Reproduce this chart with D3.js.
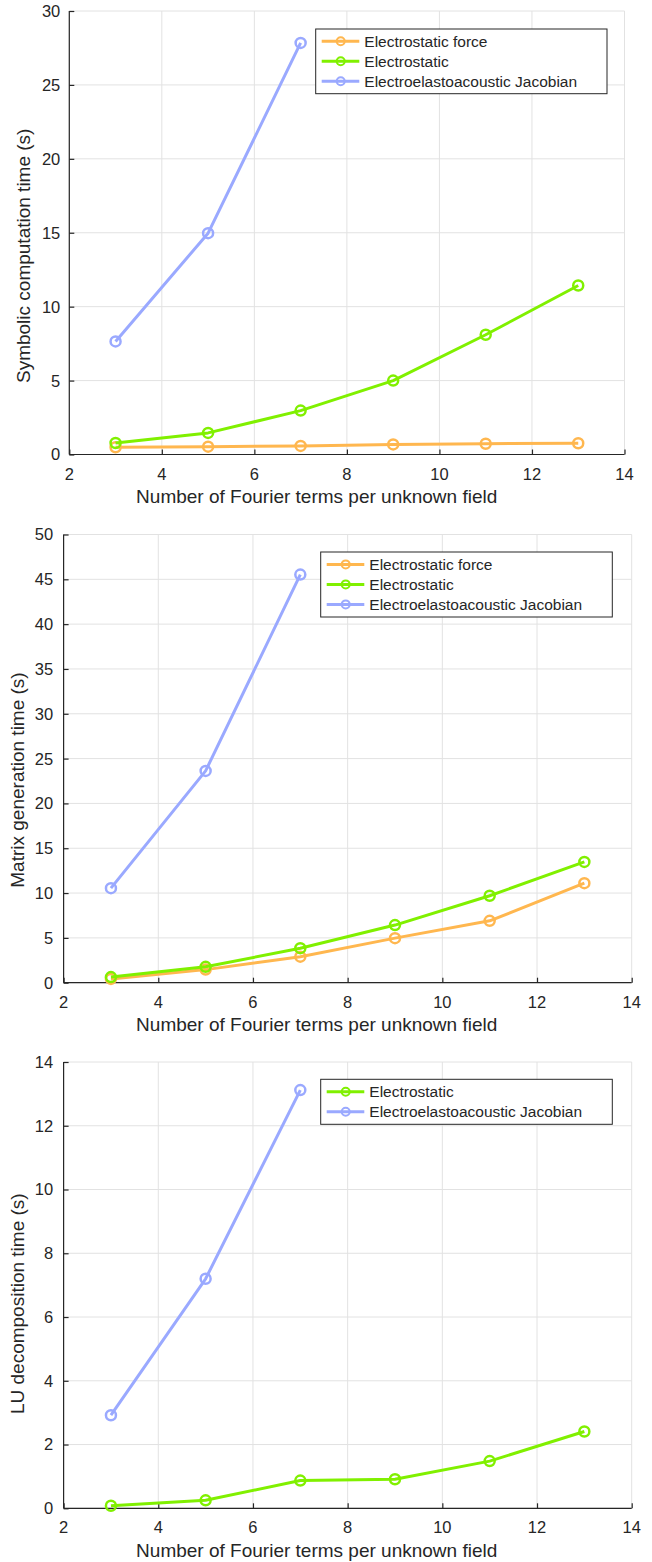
<!DOCTYPE html>
<html>
<head>
<meta charset="utf-8">
<script src="https://cdn.jsdelivr.net/npm/d3@7"></script>
<style>
  html, body { margin: 0; padding: 0; background: #fff; }
  svg { display: block; }
  text { font-family: "Liberation Sans", Arial, Helvetica, sans-serif; fill: #262626; }
</style>
</head>
<body>
<svg id="fig" width="652" height="1562"></svg>
<script>
// ---------------- data ----------------
const xTerms = [3, 5, 7, 9, 11, 13];
const xTermsJac = [3, 5, 7];
const xTicks = [2, 4, 6, 8, 10, 12, 14];

const seriesNames = ["Electrostatic force", "Electrostatic", "Electroelastoacoustic Jacobian"];

// Symbolic computation time (s)
const symForce = [0.49, 0.53, 0.58, 0.68, 0.73, 0.76];
const symElec  = [0.78, 1.46, 2.97, 5.0, 8.1, 11.43];
const symJac   = [7.65, 14.97, 27.84];
const symYTicks = [0, 5, 10, 15, 20, 25, 30];

// Matrix generation time (s)
const genForce = [0.42, 1.46, 2.9, 4.97, 6.9, 11.1];
const genElec  = [0.63, 1.77, 3.85, 6.43, 9.7, 13.47];
const genJac   = [10.55, 23.63, 45.53];
const genYTicks = [0, 5, 10, 15, 20, 25, 30, 35, 40, 45, 50];

// LU decomposition time (s)
const luElec = [0.08, 0.25, 0.87, 0.91, 1.48, 2.41];
const luJac  = [2.92, 7.2, 13.12];
const luYTicks = [0, 2, 4, 6, 8, 10, 12, 14];

// ---------------- style ----------------
const colors = { force: "#ffb74f", elec: "#80f000", jac: "#9aa9ff" };
const axisColor = "#262626";
const gridColor = "#e2e2e2";

const svg = d3.select("#fig");

function drawChart(cfg) {
  const x = d3.scaleLinear().domain([2, 14]).range([cfg.left, cfg.right]);
  const y = d3.scaleLinear().domain([0, cfg.yMax]).range([cfg.bottom, cfg.top]);
  const g = svg.append("g");

  // grid
  g.append("g").selectAll("line").data(xTicks).join("line")
    .attr("x1", d => x(d)).attr("x2", d => x(d))
    .attr("y1", cfg.bottom).attr("y2", cfg.top)
    .attr("stroke", gridColor).attr("stroke-width", 1);
  g.append("g").selectAll("line").data(cfg.yTicks).join("line")
    .attr("y1", d => y(d)).attr("y2", d => y(d))
    .attr("x1", cfg.left).attr("x2", cfg.right)
    .attr("stroke", gridColor).attr("stroke-width", 1);

  // axes (inward ticks)
  const xAxis = d3.axisTop(x).tickValues(xTicks).tickSize(5).tickFormat("");
  g.append("g").attr("transform", `translate(0,${cfg.bottom})`).call(xAxis)
    .call(s => s.selectAll("path,line").attr("stroke", axisColor).attr("stroke-width", 1.2))
    .call(s => s.select(".domain").attr("d", `M${cfg.left},0H${cfg.right}`));
  const yAxis = d3.axisRight(y).tickValues(cfg.yTicks).tickSize(5).tickFormat("");
  g.append("g").attr("transform", `translate(${cfg.left},0)`).call(yAxis)
    .call(s => s.selectAll("path,line").attr("stroke", axisColor).attr("stroke-width", 1.2))
    .call(s => s.select(".domain").attr("d", `M0,${cfg.top}V${cfg.bottom}`));

  // tick labels
  g.append("g").selectAll("text").data(xTicks).join("text")
    .attr("x", d => x(d)).attr("y", cfg.bottom + 25)
    .attr("text-anchor", "middle").attr("font-size", 16.5).text(d => d);
  g.append("g").selectAll("text").data(cfg.yTicks).join("text")
    .attr("x", cfg.left - cfg.yLabGap).attr("y", d => y(d)).attr("dy", "0.36em")
    .attr("text-anchor", "end").attr("font-size", 16.5).text(d => d);

  // axis titles
  g.append("text").attr("x", 316.7).attr("y", cfg.bottom + 48.5)
    .attr("text-anchor", "middle").attr("font-size", 19).text("Number of Fourier terms per unknown field");
  g.append("text")
    .attr("transform", `translate(${cfg.yTitleX},${cfg.yTitleY}) rotate(-90)`)
    .attr("text-anchor", "middle").attr("font-size", 19).text(cfg.yTitle);

  // series
  const line = d3.line().x(d => x(d[0])).y(d => y(d[1]));
  cfg.series.forEach(s => {
    const pts = s.xs.map((v, i) => [v, s.ys[i]]);
    g.append("path").datum(pts).attr("d", line)
      .attr("fill", "none").attr("stroke", s.color).attr("stroke-width", 3)
      .attr("stroke-linejoin", "round");
    g.append("g").selectAll("circle").data(pts).join("circle")
      .attr("cx", d => x(d[0])).attr("cy", d => y(d[1])).attr("r", 5)
      .attr("fill", "none").attr("stroke", s.color).attr("stroke-width", 2.5);
  });

  // legend
  const L = cfg.legend;
  const lg = g.append("g");
  lg.append("rect").attr("x", L.x0).attr("y", L.y0)
    .attr("width", L.x1 - L.x0).attr("height", L.y1 - L.y0)
    .attr("fill", "#fff").attr("stroke", axisColor).attr("stroke-width", 1);
  cfg.series.forEach((s, i) => {
    const cy = L.firstY + i * 20;
    lg.append("line").attr("x1", L.x0 + 6).attr("x2", L.x0 + 43.6)
      .attr("y1", cy).attr("y2", cy).attr("stroke", s.color).attr("stroke-width", 3);
    lg.append("circle").attr("cx", L.x0 + 25).attr("cy", cy).attr("r", 4)
      .attr("fill", "none").attr("stroke", s.color).attr("stroke-width", 2);
    lg.append("text").attr("x", L.x0 + 48.6).attr("y", cy).attr("dy", "0.36em")
      .attr("font-size", 15.5).text(s.name);
  });
}

drawChart({
  left: 69.3, right: 624.5, top: 11, bottom: 454.5, yMax: 30, yTicks: symYTicks,
  yLabGap: 9, yTitle: "Symbolic computation time (s)", yTitleX: 29.5, yTitleY: 255.8,
  legend: { x0: 315.7, x1: 607, y0: 29, y1: 93.7, firstY: 41.3 },
  series: [
    { name: seriesNames[0], xs: xTerms, ys: symForce, color: colors.force },
    { name: seriesNames[1], xs: xTerms, ys: symElec, color: colors.elec },
    { name: seriesNames[2], xs: xTermsJac, ys: symJac, color: colors.jac }
  ]
});

drawChart({
  left: 63.6, right: 631.7, top: 534.5, bottom: 982.7, yMax: 50, yTicks: genYTicks,
  yLabGap: 10.5, yTitle: "Matrix generation time (s)", yTitleX: 24.3, yTitleY: 780,
  legend: { x0: 320.7, x1: 612.3, y0: 552, y1: 617, firstY: 564.4 },
  series: [
    { name: seriesNames[0], xs: xTerms, ys: genForce, color: colors.force },
    { name: seriesNames[1], xs: xTerms, ys: genElec, color: colors.elec },
    { name: seriesNames[2], xs: xTermsJac, ys: genJac, color: colors.jac }
  ]
});

drawChart({
  left: 63.6, right: 631.7, top: 1062, bottom: 1508.3, yMax: 14, yTicks: luYTicks,
  yLabGap: 10.5, yTitle: "LU decomposition time (s)", yTitleX: 24.3, yTitleY: 1303.7,
  legend: { x0: 320.7, x1: 612.3, y0: 1079.3, y1: 1124.3, firstY: 1091.7 },
  series: [
    { name: seriesNames[1], xs: xTerms, ys: luElec, color: colors.elec },
    { name: seriesNames[2], xs: xTermsJac, ys: luJac, color: colors.jac }
  ]
});
</script>
</body>
</html>
